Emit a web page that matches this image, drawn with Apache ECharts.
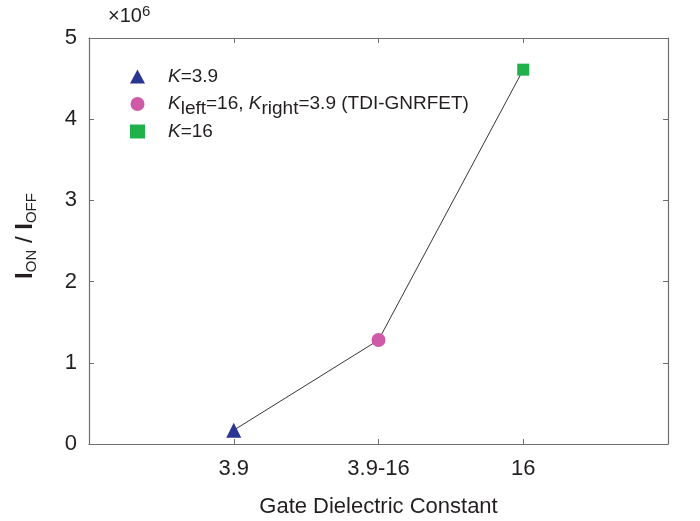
<!DOCTYPE html>
<html><head><meta charset="utf-8">
<script src="https://cdn.jsdelivr.net/npm/echarts@6/dist/echarts.min.js"></script>
<style>html,body{margin:0;padding:0;background:#fff}#c{width:700px;height:521px}</style>
</head><body><div id="c"></div>
<script>
var categories = ['3.9', '3.9-16', '16'];
var xPositions = [1, 2, 3];
var ratioValues = [0.17, 1.28, 4.61]; // ×10^6
var seriesNames = ['K=3.9', 'Kleft=16, Kright=3.9 (TDI-GNRFET)', 'K=16'];
var seriesSymbols = ['triangle', 'circle', 'rect'];
var seriesColors = ['#2b3593', '#cf5aa8', '#21b14b'];
var yTicks = [0, 1, 2, 3, 4, 5];

var FONT = '"Liberation Sans", Arial, sans-serif';
var TXT = '#231f20';
var AX = '#6d6e71';

var chart = echarts.init(document.getElementById('c'), null, {renderer: 'canvas'});

var legendLabels = {};
legendLabels[seriesNames[0]] = '{sp| }{i|K}{n|=3.9}';
legendLabels[seriesNames[1]] = '{sp| }{i|K}{s|left}{n|=16, }{i|K}{s|right}{n|=3.9 (TDI-GNRFET)}';
legendLabels[seriesNames[2]] = '{sp| }{i|K}{n|=16}';

var symbolSizes = [15, 14, 12];
var series = [{
  type: 'line',
  data: xPositions.map(function (x, i) { return [x, ratioValues[i]]; }),
  symbol: 'none',
  lineStyle: {color: '#231f20', width: 0.9},
  z: 1,
  silent: true
}];
seriesNames.forEach(function (n, i) {
  series.push({
    type: 'scatter',
    name: n,
    data: [[xPositions[i], ratioValues[i]]],
    symbol: seriesSymbols[i],
    symbolSize: symbolSizes[i],
    itemStyle: {color: seriesColors[i], opacity: 1},
    z: 3
  });
});

function axisCommon() {
  return {
    axisLine: {show: true, onZero: false, lineStyle: {color: AX, width: 1.2}},
    axisTick: {show: true, inside: true, length: 5, lineStyle: {color: AX, width: 1}},
    splitLine: {show: false}
  };
}

chart.setOption({
  animation: false,
  backgroundColor: '#fff',
  grid: {left: 89, right: 32, top: 38, bottom: 77, containLabel: false, outerBoundsMode: 'none'},
  xAxis: [
    Object.assign({
      type: 'value', min: 0, max: 4, interval: 1, position: 'bottom',
      name: 'Gate Dielectric Constant', nameLocation: 'middle', nameGap: 52,
      nameTextStyle: {fontFamily: FONT, fontSize: 22, color: TXT},
      axisLabel: {
        margin: 14, fontFamily: FONT, fontSize: 22, color: TXT,
        formatter: function (v) { var k = xPositions.indexOf(v); return k >= 0 ? categories[k] : ''; }
      }
    }, axisCommon()),
    Object.assign({
      type: 'value', min: 0, max: 4, interval: 1, position: 'top',
      axisLabel: {show: false}
    }, axisCommon())
  ],
  yAxis: [
    Object.assign({
      type: 'value', min: yTicks[0], max: yTicks[yTicks.length - 1], interval: 1, position: 'left',
      axisLabel: {margin: 12, fontFamily: FONT, fontSize: 22, color: TXT}
    }, axisCommon()),
    Object.assign({
      type: 'value', min: yTicks[0], max: yTicks[yTicks.length - 1], interval: 1, position: 'right',
      axisLabel: {show: false}
    }, axisCommon())
  ],
  legend: {
    data: seriesNames,
    orient: 'vertical',
    left: 125, top: 62,
    itemWidth: 15, itemHeight: 14,
    itemGap: 4,
    selectedMode: false,
    formatter: function (n) { return legendLabels[n]; },
    textStyle: {
      fontFamily: FONT, fontSize: 19, color: TXT,
      rich: {
        sp: {fontFamily: FONT, fontSize: 19, width: 18, lineHeight: 22},
        n: {fontFamily: FONT, fontSize: 19, color: TXT, lineHeight: 22},
        i: {fontFamily: FONT, fontSize: 19, color: TXT, fontStyle: 'italic', lineHeight: 22},
        s: {fontFamily: FONT, fontSize: 19, color: TXT, lineHeight: 18, padding: [9, 0, 0, 0]}
      }
    },
    itemStyle: {borderWidth: 0}
  },
  graphic: [
    {
      type: 'text', left: 108, top: 4,
      style: {
        text: '{n|×10}{p|6}',
        rich: {
          n: {fontFamily: FONT, fontSize: 20, fill: TXT, lineHeight: 24},
          p: {fontFamily: FONT, fontSize: 15, fill: TXT, lineHeight: 15, padding: [0, 0, 10, 0]}
        }
      }
    },
    {
      type: 'text', x: 25, y: 236, rotation: Math.PI / 2,
      style: {
        text: '{b|I}{s|ON}{m| / }{b|I}{s|OFF}',
        align: 'center', verticalAlign: 'middle',
        rich: {
          b: {fontFamily: FONT, fontSize: 24, fill: TXT, fontWeight: 'bold', lineHeight: 28},
          m: {fontFamily: FONT, fontSize: 24, fill: TXT, lineHeight: 28},
          s: {fontFamily: FONT, fontSize: 15, fill: TXT, lineHeight: 15, padding: [14, 0, 0, 0]}
        }
      }
    }
  ],
  series: series
});
</script></body></html>
